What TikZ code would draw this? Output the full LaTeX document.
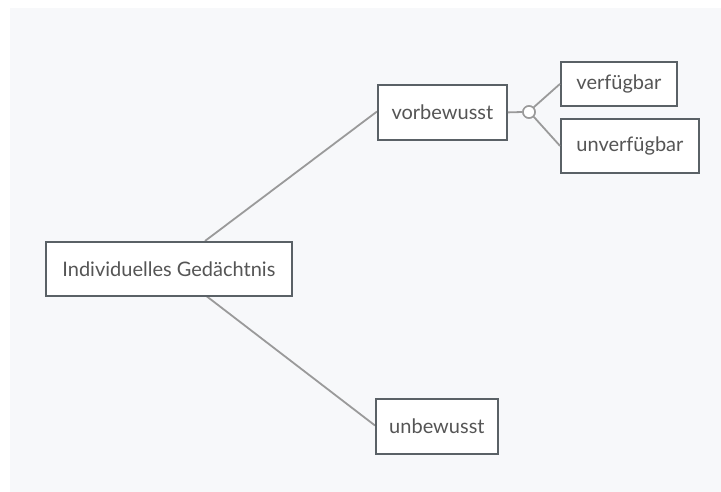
\documentclass[tikz,border=0pt]{standalone}
\usepackage{fontspec}
\setmainfont{Lato}
\definecolor{bgpanel}{HTML}{F7F8FA}
\definecolor{boxline}{HTML}{5A6166}
\definecolor{linkline}{HTML}{9A9A9A}
\definecolor{txt}{HTML}{555555}
\tikzset{
  topic/.style={draw=boxline, line width=1.8pt, fill=white, rectangle,
    anchor=north west, inner sep=0pt, text=txt,
    font=\fontsize{20}{24}\selectfont},
  link/.style={draw=linkline, line width=1.8pt},
  knotstyle/.style={circle, draw=linkline, line width=1.5pt, fill=white,
    minimum size=12pt, inner sep=0pt},
}
\begin{document}
\begin{tikzpicture}[x=1pt,y=-1pt]
  \useasboundingbox (0,0) rectangle (721,492);
  \fill[bgpanel] (10,8) rectangle (721,492);

  % connector end points on the root box
  \coordinate (rtop) at (205,241);
  \coordinate (rbot) at (205,295);

  % connectors first, boxes drawn over their ends
  \coordinate (vorW) at (377,111.5);
  \coordinate (unbW) at (375,425.5);
  \draw[link] (rtop) -- (vorW);
  \draw[link] (rbot) -- (unbW);

  % topic boxes
  \node[topic, minimum width=246pt, minimum height=54pt] (root) at (45,241) {Individuelles Gedächtnis};
  \node[topic, minimum width=129pt, minimum height=55pt] (vor) at (377,84) {vorbewusst};
  \node[topic, minimum width=116pt, minimum height=44pt] (verf) at (560,61) {verfügbar};
  \node[topic, minimum width=138pt, minimum height=54pt] (unverf) at (560,118) {unverfügbar};
  \node[topic, minimum width=122pt, minimum height=55pt] (unb) at (375,398) {unbewusst};

  % branch junction
  \node[knotstyle] (knot) at (529,112) {};
  \draw[link] (vor.east) -- (knot.west);
  \draw[link] (knot.north east) -- (verf.west);
  \draw[link] (knot.south east) -- (unverf.west);
  \node[knotstyle] at (529,112) {};
\end{tikzpicture}
\end{document}
